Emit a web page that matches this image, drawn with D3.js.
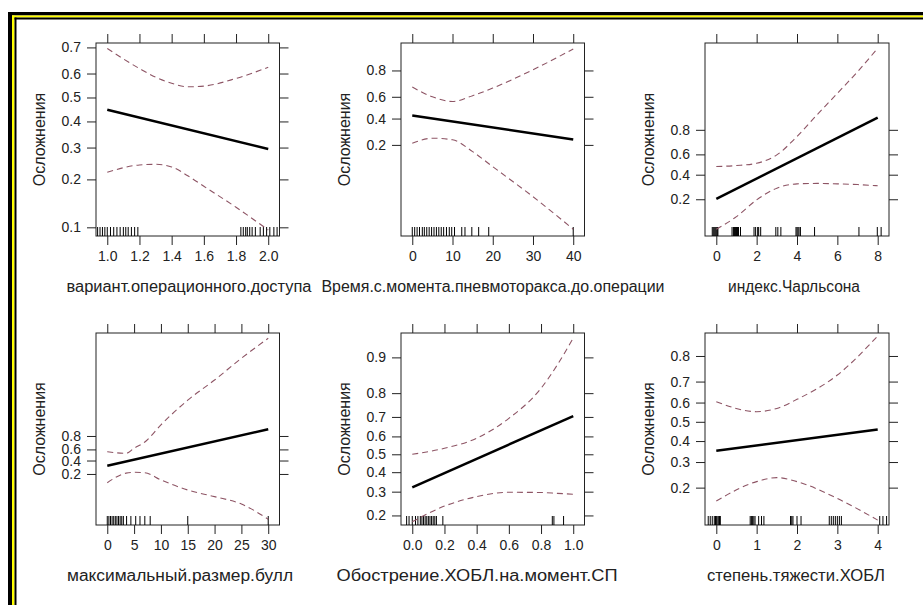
<!DOCTYPE html>
<meta charset="utf-8">
<script src="https://d3js.org/d3.v7.min.js"></script>
<style>
  body { margin: 0; background: #fff; }
  text { font-family: "Liberation Sans", Arial, sans-serif; fill: #222; }
</style>
<div id="my_dataviz"></div>
<script>

// ---- data (probabilities, y axis on the logit scale) ----
const yTitle = "Осложнения";
const xTitles = [
  "вариант.операционного.доступа",
  "Время.с.момента.пневмоторакса.до.операции",
  "индекс.Чарльсона",
  "максимальный.размер.булл",
  "Обострение.ХОБЛ.на.момент.СП",
  "степень.тяжести.ХОБЛ"
];

// panel 1
const p1XTicks = [1.0, 1.2, 1.4, 1.6, 1.8, 2.0];
const p1YTicks = [0.1, 0.2, 0.3, 0.4, 0.5, 0.6, 0.7];
const p1FitX = [1.0, 2.0];
const p1Fit = [0.448, 0.295];
const p1BandX = [1.0, 1.2, 1.3, 1.4, 1.5, 1.6, 1.8, 2.0];
const p1Upper = [0.696, 0.62, 0.585, 0.56, 0.545, 0.548, 0.58, 0.625];
const p1Lower = [0.22, 0.242, 0.244, 0.236, 0.21, 0.182, 0.135, 0.096];
const p1Rug = [0.94, 0.955, 0.97, 0.985, 1.0, 1.02, 1.04, 1.06, 1.08, 1.1, 1.115, 1.13, 1.15, 1.17, 1.19,
               1.83, 1.845, 1.86, 1.87, 1.885, 1.9, 1.92, 1.95, 1.97, 1.99, 2.01, 2.035, 2.055];

// panel 2
const p2XTicks = [0, 10, 20, 30, 40];
const p2YTicks = [0.2, 0.4, 0.6, 0.8];
const p2FitX = [0, 40];
const p2Fit = [0.427, 0.234];
const p2BandX = [0, 5, 10, 15, 20, 30, 40];
const p2Upper = [0.683, 0.6, 0.557, 0.61, 0.675, 0.804, 0.899];
const p2Lower = [0.21, 0.243, 0.232, 0.163, 0.1, 0.035, 0.0107];
const p2Rug = [0, 0.6, 1.2, 1.8, 2.5, 3, 3.6, 4.2, 4.8, 5.4, 6, 6.6, 7.2, 7.8, 8.5, 9.2, 9.8, 10.5,
               12.3, 13.1, 14.8, 16.5, 19, 40];

// panel 3
const p3XTicks = [0, 2, 4, 6, 8];
const p3YTicks = [0.2, 0.4, 0.6, 0.8];
const p3FitX = [0, 8];
const p3Fit = [0.202, 0.867];
const p3BandX = [0, 1, 2, 3, 4, 5, 6, 7, 8];
const p3Upper = [0.48, 0.49, 0.513, 0.595, 0.754, 0.88, 0.945, 0.976, 0.9905];
const p3Lower = [0.07, 0.111, 0.196, 0.28, 0.316, 0.32, 0.316, 0.31, 0.3];
const p3Rug = [-0.2, -0.15, -0.1, -0.05, 0, 0.05, 0.08, 0.78, 0.85, 0.9, 0.95, 1.0, 1.05, 1.1, 1.2,
               1.87, 1.95, 2.05, 2.1, 2.2, 2.95, 3.05, 3.2, 3.95, 4.0, 4.05, 4.1, 4.17, 4.87, 7.07, 7.98, 8.17];

// panel 4
const p4XTicks = [0, 5, 10, 15, 20, 25, 30];
const p4YTicks = [0.2, 0.4, 0.6, 0.8];
const p4FitX = [0, 30];
const p4Fit = [0.314, 0.867];
const p4BandX = [0, 3.5, 5, 7, 10, 15, 20, 25, 30];
const p4Upper = [0.56, 0.53, 0.62, 0.72, 0.9, 0.982, 0.9958, 0.99914, 0.9998];
const p4Lower = [0.117, 0.21, 0.22, 0.215, 0.139, 0.072, 0.0456, 0.0272, 0.0091];
const p4Rug = [0, 0.3, 0.6, 0.9, 1.2, 1.5, 1.8, 2.1, 2.4, 2.7, 3.0, 3.6, 4.4, 5.3, 6.1, 7.0, 8.0, 15, 30];

// panel 5
const p5XTicks = [0.0, 0.2, 0.4, 0.6, 0.8, 1.0];
const p5YTicks = [0.2, 0.3, 0.4, 0.5, 0.6, 0.7, 0.8, 0.9];
const p5FitX = [0, 1];
const p5Fit = [0.321, 0.704];
const p5BandX = [0, 0.2, 0.4, 0.6, 0.8, 0.9, 1.0];
const p5Upper = [0.5, 0.534, 0.59, 0.693, 0.817, 0.883, 0.933];
const p5Lower = [0.178, 0.236, 0.277, 0.297, 0.296, 0.292, 0.288];
const p5Rug = [-0.035, -0.02, 0.0, 0.02, 0.035, 0.05, 0.06, 0.07, 0.08, 0.09, 0.1, 0.11, 0.12, 0.13,
               0.14, 0.15, 0.19, 0.87, 0.88, 0.94];

// panel 6
const p6XTicks = [0, 1, 2, 3, 4];
const p6YTicks = [0.2, 0.3, 0.4, 0.5, 0.6, 0.7, 0.8];
const p6FitX = [0, 4];
const p6Fit = [0.352, 0.46];
const p6BandX = [0, 1, 1.5, 2, 3, 4];
const p6Upper = [0.604, 0.553, 0.57, 0.616, 0.728, 0.859];
const p6Lower = [0.159, 0.221, 0.236, 0.221, 0.166, 0.112];
const p6Rug = [-0.2, -0.15, -0.1, -0.05, -0.02, 0, 0.02, 0.05, 0.08, 0.1,
               0.84, 0.87, 0.9, 0.93, 0.96, 1.05, 1.12, 1.18,
               1.84, 1.87, 1.9, 2.0, 2.1,
               2.8, 2.85, 2.9, 2.95, 3.0, 3.05, 3.1,
               4.05, 4.13, 4.22];

// y limits of each panel, in logit units
const yLimits = [[-2.344, 0.922], [-4.78, 2.409], [-2.854, 4.854],
                 [-5.11, 8.9], [-1.603, 2.75], [-2.173, 1.87]];

// ---- layout ----
const W = 923, H = 605;
const colLeft = [96, 401, 705], colRight = [279.5, 584.5, 889];
const rowTop = [43, 333], rowBottom = [236, 525];
const xTitleX = [189, 493, 794, 180, 477, 796];
const xTitleLen = [245, 343, 132, 226, 281, 178];
const tick = 9, rugLen = 9;

const panels = [
  {xt: p1XTicks, yt: p1YTicks, fx: p1FitX, fit: p1Fit, bx: p1BandX, up: p1Upper, lo: p1Lower, rug: p1Rug},
  {xt: p2XTicks, yt: p2YTicks, fx: p2FitX, fit: p2Fit, bx: p2BandX, up: p2Upper, lo: p2Lower, rug: p2Rug},
  {xt: p3XTicks, yt: p3YTicks, fx: p3FitX, fit: p3Fit, bx: p3BandX, up: p3Upper, lo: p3Lower, rug: p3Rug},
  {xt: p4XTicks, yt: p4YTicks, fx: p4FitX, fit: p4Fit, bx: p4BandX, up: p4Upper, lo: p4Lower, rug: p4Rug},
  {xt: p5XTicks, yt: p5YTicks, fx: p5FitX, fit: p5Fit, bx: p5BandX, up: p5Upper, lo: p5Lower, rug: p5Rug},
  {xt: p6XTicks, yt: p6YTicks, fx: p6FitX, fit: p6Fit, bx: p6BandX, up: p6Upper, lo: p6Lower, rug: p6Rug}
];

const logit = p => Math.log(p / (1 - p));

const svg = d3.select("#my_dataviz")
  .append("svg")
    .attr("width", W)
    .attr("height", H);

svg.append("rect").attr("width", W).attr("height", H).attr("fill", "#fff");

// frame: black / yellow / black along top and left edges
const frame = svg.append("g");
frame.append("rect").attr("x", 8).attr("y", 12).attr("width", W - 8).attr("height", 3.5).attr("fill", "#000");
frame.append("rect").attr("x", 8).attr("y", 12).attr("width", 4).attr("height", H - 12).attr("fill", "#000");
frame.append("rect").attr("x", 12).attr("y", 15.5).attr("width", W - 12).attr("height", 2).attr("fill", "#ffff00");
frame.append("rect").attr("x", 12).attr("y", 15.5).attr("width", 2.5).attr("height", H - 15.5).attr("fill", "#ffff00");
frame.append("rect").attr("x", 14.5).attr("y", 17.5).attr("width", W - 14.5).attr("height", 2).attr("fill", "#000");
frame.append("rect").attr("x", 14.5).attr("y", 17.5).attr("width", 2).attr("height", H - 17.5).attr("fill", "#000");

panels.forEach(function(p, i) {
  const col = i % 3, row = Math.floor(i / 3);
  const x0 = colLeft[col], x1 = colRight[col];
  const y0 = rowTop[row], y1 = rowBottom[row];

  // x scale with lattice style 7% padding
  const ext = d3.extent(p.xt);
  const pad = (ext[1] - ext[0]) * 0.07;
  const x = d3.scaleLinear().domain([ext[0] - pad, ext[1] + pad]).range([x0, x1]);
  const y = d3.scaleLinear().domain(yLimits[i]).range([y1, y0]);

  const g = svg.append("g");

  // clip path for the panel
  g.append("clipPath").attr("id", "clip" + i)
    .append("rect").attr("x", x0).attr("y", y0).attr("width", x1 - x0).attr("height", y1 - y0);

  // axes: ticks on all four sides, labels bottom and left
  const fmtX = d3.format(p.xt.some(v => v % 1 !== 0) ? ".1f" : "d");
  g.append("g")
    .attr("transform", `translate(0, ${y1})`)
    .call(d3.axisBottom(x).tickValues(p.xt).tickFormat(fmtX).tickSize(tick).tickPadding(6))
    .call(a => a.select(".domain").remove());
  g.append("g")
    .attr("transform", `translate(0, ${y0})`)
    .call(d3.axisTop(x).tickValues(p.xt).tickFormat("").tickSize(tick))
    .call(a => a.select(".domain").remove());
  g.append("g")
    .attr("transform", `translate(${x0}, 0)`)
    .call(d3.axisLeft(y).tickValues(p.yt.map(logit)).tickFormat((d, k) => d3.format(".1f")(p.yt[k])).tickSize(tick).tickPadding(6))
    .call(a => a.select(".domain").remove());
  g.append("g")
    .attr("transform", `translate(${x1}, 0)`)
    .call(d3.axisRight(y).tickValues(p.yt.map(logit)).tickFormat("").tickSize(tick))
    .call(a => a.select(".domain").remove());

  g.selectAll(".tick line").attr("stroke", "#222");
  g.selectAll(".tick text")
    .style("font-size", "14px")
    .style("font-family", "'Liberation Sans', Arial, sans-serif")
    .attr("fill", "#222");

  // box
  g.append("rect")
    .attr("x", x0).attr("y", y0)
    .attr("width", x1 - x0).attr("height", y1 - y0)
    .attr("fill", "none").attr("stroke", "#222").attr("stroke-width", 1);

  const inner = g.append("g").attr("clip-path", `url(#clip${i})`);

  // rug
  inner.selectAll("line.rug")
    .data(p.rug)
    .join("line")
      .attr("class", "rug")
      .attr("x1", d => x(d)).attr("x2", d => x(d))
      .attr("y1", y1).attr("y2", y1 - rugLen)
      .attr("stroke", "#000").attr("stroke-width", 1);

  // confidence band (dashed)
  const band = d3.line()
    .x(d => x(d[0]))
    .y(d => y(logit(d[1])))
    .curve(d3.curveMonotoneX);
  [p.up, p.lo].forEach(function(arr) {
    inner.append("path")
      .datum(p.bx.map((v, k) => [v, arr[k]]))
      .attr("d", band)
      .attr("fill", "none")
      .attr("stroke", "#8e5565")
      .attr("stroke-width", 1.1)
      .attr("stroke-dasharray", "6,4");
  });

  // fitted line, straight on the logit scale
  const fitLine = d3.line()
    .x(d => x(d[0]))
    .y(d => y(logit(d[1])));
  inner.append("path")
    .datum(p.fx.map((v, k) => [v, p.fit[k]]))
    .attr("d", fitLine)
    .attr("fill", "none")
    .attr("stroke", "#000")
    .attr("stroke-width", 2.5);

  // titles
  svg.append("text")
    .attr("x", xTitleX[i])
    .attr("y", y1 + 52)
    .attr("text-anchor", "middle")
    .attr("dominant-baseline", "middle")
    .attr("textLength", xTitleLen[i])
    .attr("lengthAdjust", "spacingAndGlyphs")
    .style("font-size", "16px")
    .text(xTitles[i]);

  svg.append("text")
    .attr("transform", `translate(${x0 - 55}, ${(y0 + y1) / 2}) rotate(-90)`)
    .attr("text-anchor", "middle")
    .attr("dominant-baseline", "middle")
    .style("font-size", "16px")
    .text(yTitle);
});

</script>
